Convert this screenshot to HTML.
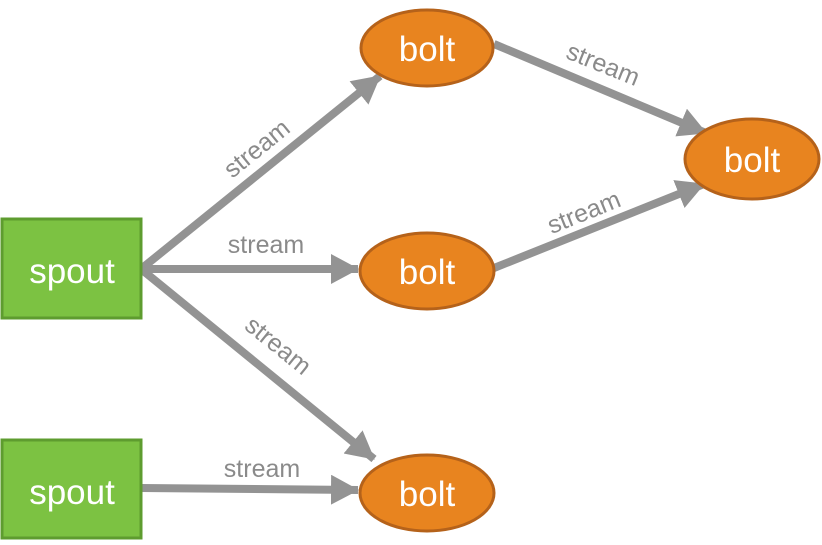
<!DOCTYPE html>
<html><head><style>body{margin:0;background:#fff}svg{display:block}</style></head><body>
<svg width="822" height="545" viewBox="0 0 822 545" xmlns="http://www.w3.org/2000/svg" font-family="Liberation Sans, sans-serif">
<defs><marker id="a" markerUnits="userSpaceOnUse" markerWidth="30" markerHeight="32" refX="27" refY="15" orient="auto"><path d="M0,0 L28,15 L0,30 z" fill="#939393"/></marker></defs>
<g stroke="#939393" stroke-width="8" fill="none" marker-end="url(#a)">
<line x1="141" y1="269" x2="380" y2="76"/>
<line x1="141" y1="269" x2="358" y2="269"/>
<line x1="141" y1="269" x2="374" y2="459"/>
<line x1="141" y1="488" x2="358" y2="490"/>
<line x1="494" y1="44" x2="706" y2="133"/>
<line x1="494" y1="268" x2="704" y2="184"/>
</g>
<g fill="#8a8a8a" font-size="25" text-anchor="middle">
<text transform="translate(262,155) rotate(-39)">stream</text>
<text x="266" y="253">stream</text>
<text transform="translate(273,352) rotate(39)">stream</text>
<text x="262" y="477">stream</text>
<text transform="translate(600,72) rotate(22)">stream</text>
<text transform="translate(587,220) rotate(-22)">stream</text>
</g>
<g fill="#7cc242" stroke="#5e9c2f" stroke-width="3">
<rect x="2" y="219" width="139" height="99"/>
<rect x="2" y="440" width="139" height="98"/>
</g>
<g fill="#e8841f" stroke="#b5621a" stroke-width="3">
<ellipse cx="427" cy="48" rx="66" ry="38"/>
<ellipse cx="427" cy="271" rx="67" ry="38"/>
<ellipse cx="427" cy="493" rx="67" ry="38"/>
<ellipse cx="752" cy="159" rx="67" ry="40"/>
</g>
<g fill="#fff" font-size="35" text-anchor="middle">
<text x="72" y="283">spout</text>
<text x="72" y="504">spout</text>
<text x="427" y="61">bolt</text>
<text x="427" y="284">bolt</text>
<text x="427" y="506">bolt</text>
<text x="752" y="172">bolt</text>
</g>
</svg>
</body></html>
